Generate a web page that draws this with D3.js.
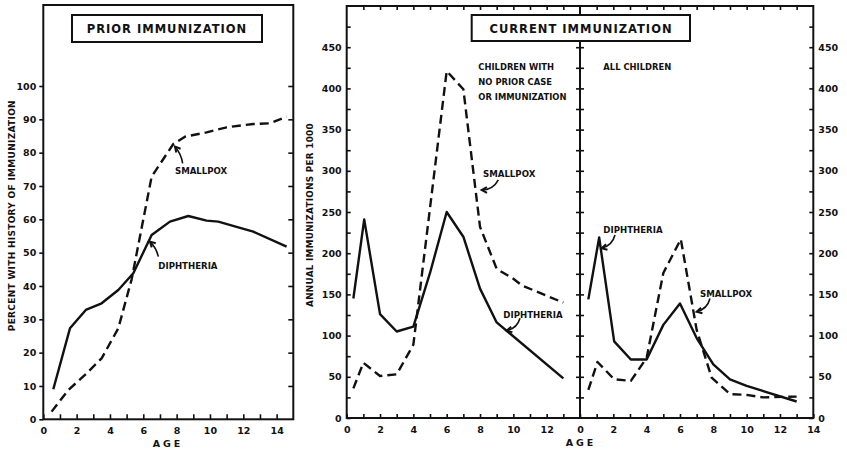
<!DOCTYPE html>
<html>
<head>
<meta charset="utf-8">
<script src="https://cdn.jsdelivr.net/npm/d3@7"></script>
<style>
  html, body { margin: 0; padding: 0; background: #fff; }
  svg text { font-family: "DejaVu Sans", "Liberation Sans", sans-serif; font-weight: bold; fill: #111; }
</style>
</head>
<body>
<div id="chart"></div>
<script>
// prior immunization (percent with history), by age
const priorDiphAges = [0.6, 1.6, 2.55, 3.5, 4.5, 5.4, 6.5, 7.6, 8.7, 9.8, 10.5, 11.7, 12.6, 14.6]
const priorDiphValues = [9, 27.3, 32.8, 34.8, 38.8, 43.8, 55.3, 59.3, 61, 59.6, 59.3, 57.6, 56.3, 51.8]
const priorPoxAges = [0.5, 1.5, 2.5, 3.5, 4.5, 5.3, 6.5, 7.8, 8.5, 9.8, 11, 12.6, 13.6, 14.6]
const priorPoxValues = [2.3, 8.8, 13.3, 18.3, 27.3, 42, 72.8, 82.6, 84.8, 86.1, 87.6, 88.6, 88.8, 90.8]

// current immunization, children with no prior case or immunization
const noPriorDiphAges = [0.4, 1.05, 2, 3, 4, 5, 6, 7, 8, 9, 13]
const noPriorDiphValues = [145, 241, 126, 105, 111, 176, 250, 220, 157, 116, 48]
const noPriorPoxAges = [0.4, 1, 2, 3, 4, 6, 7, 8, 9, 10, 10.5, 13]
const noPriorPoxValues = [36, 67, 51, 53, 89, 421, 399, 232, 181, 169, 161, 140]

// current immunization, all children
const allDiphAges = [0.5, 1.15, 2.05, 3.05, 4, 5, 6, 7, 8, 9, 10, 13]
const allDiphValues = [144, 219, 93, 71, 71, 113, 139, 97, 65, 47, 39, 20]
const allPoxAges = [0.5, 1.05, 2.05, 3.05, 4, 5, 6.05, 7, 7.9, 9, 10, 11, 13]
const allPoxValues = [34, 68, 47, 45, 73, 176, 217, 107, 49, 29, 28, 25, 26]

// tick labels
const priorAgeLabels = [0, 2, 4, 6, 8, 10, 12, 14]
const priorPercentLabels = [0, 10, 20, 30, 40, 50, 60, 70, 80, 90, 100]
const middleAgeLabels = [0, 2, 4, 6, 8, 10, 12]
const rightAgeLabels = [0, 2, 4, 6, 8, 10, 12, 14]
const rateLabels = [0, 50, 100, 150, 200, 250, 300, 350, 400, 450]

const width = 847
const height = 450

const svg = d3.select("#chart").append("svg").attr("width", width).attr("height", height)

// scales
const xPrior = d3.scaleLinear().domain([0, 15]).range([43.3, 293.3])
const yPrior = d3.scaleLinear().domain([0, 100]).range([419.3, 86])
const xMid = d3.scaleLinear().domain([0, 14]).range([346.7, 580])
const xAll = d3.scaleLinear().domain([0, 14]).range([580, 813.3])
const yRate = d3.scaleLinear().domain([0, 500]).range([418, 6])

const pairs = (ages, values) => ages.map((a, i) => [a, values[i]])

const drawLine = (g, data, x, y, dashed) => {
	g.append("path")
		.datum(data)
		.attr("fill", "none")
		.attr("stroke", "#111")
		.attr("stroke-width", 2.4)
		.attr("stroke-linejoin", "round")
		.attr("stroke-dasharray", dashed ? "9,5" : null)
		.attr(
			"d",
			d3
				.line()
				.x(d => x(d[0]))
				.y(d => y(d[1]))
		)
}

const styleAxis = (sel, fontSize) => {
	sel.select(".domain").remove()
	sel.selectAll(".tick line").attr("stroke", "#111").attr("stroke-width", 1.6)
	sel.selectAll(".tick text").attr("font-size", fontSize).attr("fill", "#111")
}

// curved annotation arrow, from tail to head in data coords
const drawArrow = (g, x, y, from, to, bend) => {
	const x1 = x(from[0]), y1 = y(from[1]), x2 = x(to[0]), y2 = y(to[1])
	const mx = (x1 + x2) / 2, my = (y1 + y2) / 2
	const dx = x2 - x1, dy = y2 - y1
	const cx = mx - dy * bend, cy = my + dx * bend
	g.append("path")
		.attr("d", `M${x1},${y1} Q${cx},${cy} ${x2},${y2}`)
		.attr("fill", "none").attr("stroke", "#111").attr("stroke-width", 1.6)
	const ang = Math.atan2(y2 - cy, x2 - cx)
	const len = 6
	const a1 = ang + Math.PI - 0.5, a2 = ang + Math.PI + 0.5
	g.append("path")
		.attr("d", `M${x2 + len * Math.cos(a1)},${y2 + len * Math.sin(a1)} L${x2},${y2} L${x2 + len * Math.cos(a2)},${y2 + len * Math.sin(a2)}`)
		.attr("fill", "none").attr("stroke", "#111").attr("stroke-width", 2).attr("stroke-linejoin", "miter")
}

const drawNote = (g, x, y, note) => {
	g.append("text").attr("x", x(note.at[0])).attr("y", y(note.at[1])).attr("font-size", 8.6).text(note.text)
	if (note.from) drawArrow(g, x, y, note.from, note.to, note.bend || 0)
}

// ---------- PRIOR IMMUNIZATION ----------
const gPrior = svg.append("g")

gPrior.append("rect")
	.attr("x", xPrior(0)).attr("y", 5)
	.attr("width", xPrior(15) - xPrior(0)).attr("height", yPrior(0) - 5)
	.attr("fill", "none").attr("stroke", "#111").attr("stroke-width", 2)

gPrior.append("g")
	.attr("transform", `translate(0,${yPrior(0)})`)
	.call(d3.axisBottom(xPrior).tickValues(d3.range(0, 15)).tickSize(-5).tickPadding(8)
		.tickFormat(d => (priorAgeLabels.includes(d) ? d : "")))
	.call(s => styleAxis(s, 9.5))

gPrior.append("g")
	.attr("transform", `translate(${xPrior(0)},0)`)
	.call(d3.axisLeft(yPrior).tickValues(priorPercentLabels).tickSize(4).tickPadding(3))
	.call(s => styleAxis(s, 9.5))

gPrior.append("g")
	.attr("transform", `translate(${xPrior(15)},0)`)
	.call(d3.axisRight(yPrior).tickValues(d3.range(10, 101, 10)).tickSize(-5).tickFormat(""))
	.call(s => styleAxis(s, 9.5))

drawLine(gPrior, pairs(priorDiphAges, priorDiphValues), xPrior, yPrior, false)
drawLine(gPrior, pairs(priorPoxAges, priorPoxValues), xPrior, yPrior, true)

gPrior.append("rect").attr("x", 72).attr("y", 15).attr("width", 190).attr("height", 27)
	.attr("fill", "#fff").attr("stroke", "#111").attr("stroke-width", 2)
gPrior.append("text").attr("x", 167).attr("y", 33).attr("text-anchor", "middle")
	.attr("font-size", 11.5).attr("letter-spacing", 1).text("PRIOR IMMUNIZATION")

drawNote(gPrior, xPrior, yPrior, { text: "SMALLPOX", at: [7.9, 73.7], from: [8.36, 76.8], to: [7.9, 81.8], bend: 0.15 })
drawNote(gPrior, xPrior, yPrior, { text: "DIPHTHERIA", at: [6.9, 45.2], from: [6.9, 48.8], to: [6.4, 53.3], bend: 0.15 })

gPrior.append("text")
	.attr("transform", `translate(15,${(yPrior(0) + 86) / 2 - 37}) rotate(-90)`)
	.attr("text-anchor", "middle").attr("font-size", 9).attr("letter-spacing", 0.3)
	.text("PERCENT WITH HISTORY OF IMMUNIZATION")

gPrior.append("text").attr("x", 168).attr("y", 447).attr("text-anchor", "middle")
	.attr("font-size", 9.5).attr("letter-spacing", 3).text("AGE")

// ---------- CURRENT IMMUNIZATION ----------
const gCur = svg.append("g")

gCur.append("rect")
	.attr("x", xMid(0)).attr("y", yRate(500))
	.attr("width", xAll(14) - xMid(0)).attr("height", yRate(0) - yRate(500))
	.attr("fill", "none").attr("stroke", "#111").attr("stroke-width", 2)

// divider between the two sub-panels
gCur.append("line")
	.attr("x1", xAll(0)).attr("x2", xAll(0)).attr("y1", yRate(500)).attr("y2", yRate(0))
	.attr("stroke", "#111").attr("stroke-width", 2)

gCur.append("g")
	.attr("transform", `translate(${xAll(0) + 4},0)`)
	.call(d3.axisLeft(yRate).tickValues(d3.range(25, 500, 25)).tickSize(8).tickFormat(""))
	.call(s => styleAxis(s, 9.5))

gCur.append("g")
	.attr("transform", `translate(${xMid(0)},0)`)
	.call(d3.axisLeft(yRate).tickValues(d3.range(0, 500, 25)).tickSize(-4).tickPadding(5)
		.tickFormat(d => (rateLabels.includes(d) ? d : "")))
	.call(s => styleAxis(s, 9.5))

gCur.append("g")
	.attr("transform", `translate(${xAll(14)},0)`)
	.call(d3.axisRight(yRate).tickValues(d3.range(0, 500, 25)).tickSize(-4).tickPadding(5)
		.tickFormat(d => (rateLabels.includes(d) ? d : "")))
	.call(s => styleAxis(s, 9.5))

for (const [x, labels, last] of [[xMid, middleAgeLabels, 14], [xAll, rightAgeLabels, 15]]) {
	gCur.append("g")
		.attr("transform", `translate(0,${yRate(0)})`)
		.call(d3.axisBottom(x).tickValues(d3.range(0, last)).tickSize(-4).tickPadding(8)
			.tickFormat(d => (labels.includes(d) ? d : "")))
		.call(s => styleAxis(s, 9.5))
	gCur.append("g")
		.attr("transform", `translate(0,${yRate(500)})`)
		.call(d3.axisTop(x).tickValues(d3.range(1, 14)).tickSize(-4).tickFormat(""))
		.call(s => styleAxis(s, 9.5))
}

drawLine(gCur, pairs(noPriorDiphAges, noPriorDiphValues), xMid, yRate, false)
drawLine(gCur, pairs(noPriorPoxAges, noPriorPoxValues), xMid, yRate, true)
drawLine(gCur, pairs(allDiphAges, allDiphValues), xAll, yRate, false)
drawLine(gCur, pairs(allPoxAges, allPoxValues), xAll, yRate, true)

gCur.append("rect").attr("x", 471.7).attr("y", 15).attr("width", 218.3).attr("height", 26)
	.attr("fill", "#fff").attr("stroke", "#111").attr("stroke-width", 2)
gCur.append("text").attr("x", 581).attr("y", 32.5).attr("text-anchor", "middle")
	.attr("font-size", 11.5).attr("letter-spacing", 1).text("CURRENT IMMUNIZATION")

const subTitle = gCur.append("text").attr("font-size", 8.4)
;["CHILDREN WITH", "NO PRIOR CASE", "OR IMMUNIZATION"].forEach((t, i) => {
	subTitle.append("tspan").attr("x", xMid(7.9)).attr("y", yRate(422) + i * 15).text(t)
})
gCur.append("text").attr("x", xAll(1.4)).attr("y", yRate(422)).attr("font-size", 8.4).text("ALL CHILDREN")

drawNote(gCur, xMid, yRate, { text: "SMALLPOX", at: [8.18, 293], from: [9.1, 289], to: [8.1, 276.7], bend: -0.3 })
drawNote(gCur, xMid, yRate, { text: "DIPHTHERIA", at: [9.4, 120.8], from: [10.4, 121], to: [9.6, 106], bend: -0.3 })
drawNote(gCur, xAll, yRate, { text: "DIPHTHERIA", at: [1.4, 224], from: [2.1, 222], to: [1.3, 206], bend: -0.3 })
drawNote(gCur, xAll, yRate, { text: "SMALLPOX", at: [7.2, 147], from: [7.8, 145], to: [7.0, 129], bend: -0.3 })

gCur.append("text")
	.attr("transform", `translate(313,215) rotate(-90)`)
	.attr("text-anchor", "middle").attr("font-size", 8.8).attr("letter-spacing", 0.3)
	.text("ANNUAL IMMUNIZATIONS PER 1000")

gCur.append("text").attr("x", 581).attr("y", 446).attr("text-anchor", "middle")
	.attr("font-size", 9.5).attr("letter-spacing", 3).text("AGE")
</script>
</body>
</html>
